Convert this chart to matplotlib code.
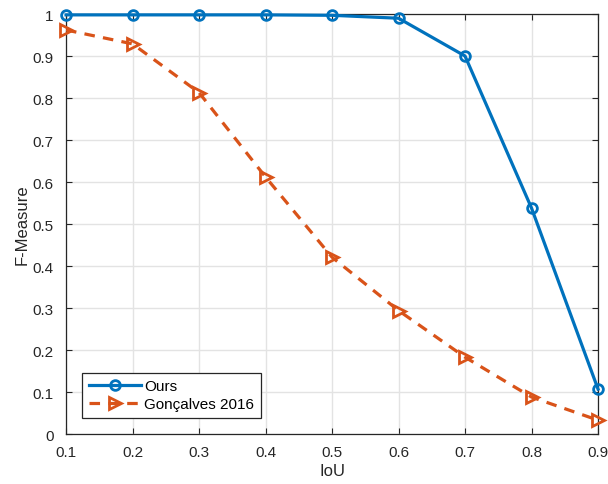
import matplotlib
matplotlib.use('Agg')
import matplotlib.pyplot as plt

plt.rcParams['font.family'] = ['Liberation Sans', 'DejaVu Sans']

# IoU thresholds and F-measure values
iou = [0.1, 0.2, 0.3, 0.4, 0.5, 0.6, 0.7, 0.8, 0.9]
ours = [0.998, 0.998, 0.998, 0.998, 0.997, 0.99, 0.90, 0.538, 0.107]
goncalves = [0.962, 0.929, 0.813, 0.612, 0.421, 0.294, 0.183, 0.088, 0.033]

blue = '#0072BD'
orange = '#D95319'

fig = plt.figure(figsize=(6.08, 4.85), dpi=100)
ax = fig.add_axes([0.1086, 0.103, 0.875, 0.866])

ax.plot(iou, ours, '-o', color=blue, lw=2.3, ms=7, mew=2,
        mfc='none', label='Ours', clip_on=False, zorder=3)
ax.plot(iou, goncalves, '--', marker='>', color=orange, lw=2.3, ms=9, mew=2,
        mfc='none', label='Gonçalves 2016', clip_on=False, zorder=3,
        dashes=(3.3, 2.6))

ax.set_xlim(0.1, 0.9)
ax.set_ylim(0, 1)
ax.set_xticks(iou)
ax.set_yticks([i / 10 for i in range(11)])
ax.set_xticklabels([f'{v:g}' for v in iou])
ax.set_yticklabels(['0'] + [f'{i/10:g}' for i in range(1, 11)])

ax.grid(True, color='#e3e3e3', lw=1)
ax.set_axisbelow(True)
ax.tick_params(direction='in', length=4, color='#262626', labelcolor='#262626',
               labelsize=11, top=True, right=True)
ax.tick_params(axis='x', pad=8)
ax.tick_params(axis='y', pad=9)
for s in ax.spines.values():
    s.set_color('#262626')
    s.set_linewidth(0.9)

ax.set_xlabel('IoU', fontsize=12, color='#262626', labelpad=3)
ax.set_ylabel('F-Measure', fontsize=12, color='#262626', labelpad=2)

leg = ax.legend(loc='lower left', bbox_to_anchor=(0.03, 0.038), fontsize=11,
                fancybox=False, framealpha=1, edgecolor='#262626',
                borderaxespad=0, handlelength=3.4, borderpad=0.45,
                labelspacing=0.25, handletextpad=0.2)
leg.get_frame().set_linewidth(0.9)

fig.savefig('out.png', dpi=100)
